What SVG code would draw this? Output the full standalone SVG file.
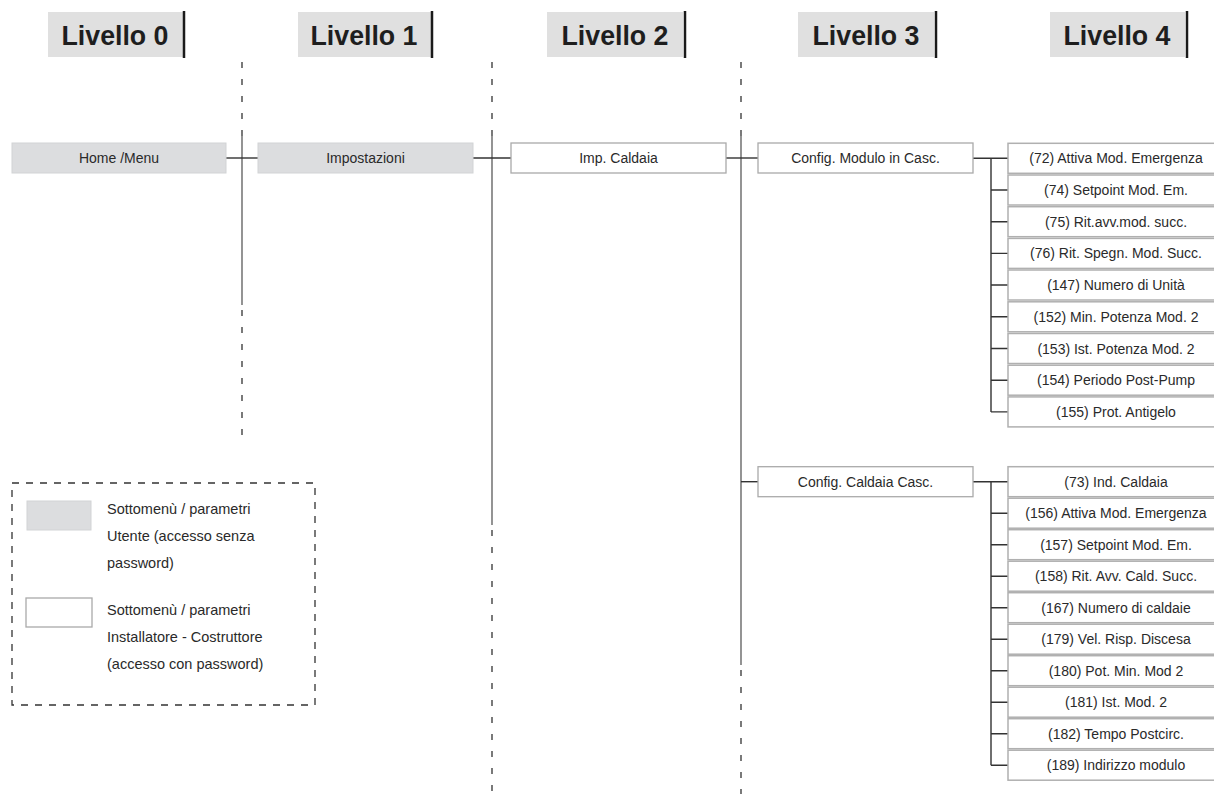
<svg xmlns="http://www.w3.org/2000/svg" width="1214" height="794" viewBox="0 0 1214 794">
<style>
.hdr{fill:#e0e0e0}
.bar{stroke:#1a1a1a;stroke-width:2.5}
.ht{font-family:"Liberation Sans",Arial,sans-serif;font-weight:bold;font-size:28px;fill:#1e1e1e;text-anchor:middle}
.t{font-family:"Liberation Sans",Arial,sans-serif;font-size:14px;fill:#2a2a2a;text-anchor:middle}
.lt{font-family:"Liberation Sans",Arial,sans-serif;font-size:14.5px;fill:#2a2a2a}
.gb{fill:#dcdddf;stroke:#d2d3d5;stroke-width:1}
.wb{fill:#ffffff;stroke:#aaaaaa;stroke-width:1.3}
.pb{fill:#ffffff;stroke:#b0b0b0;stroke-width:1.5}
.c{stroke:#333;stroke-width:1.4;fill:none}
.v{stroke:#666;stroke-width:1.4;fill:none}
.d{stroke:#333;stroke-width:1.3;fill:none;stroke-dasharray:6 11}
</style>
<g id="headers">
<g id="h0"><rect class="hdr" x="48" y="12" width="135" height="45"/><line class="bar" x1="184" y1="11" x2="184" y2="58"/><text class="ht" x="115" y="45" textLength="107" lengthAdjust="spacingAndGlyphs">Livello  0</text></g>
<g id="h1"><rect class="hdr" x="298" y="12" width="133" height="45"/><line class="bar" x1="432" y1="11" x2="432" y2="58"/><text class="ht" x="364" y="45" textLength="107" lengthAdjust="spacingAndGlyphs">Livello  1</text></g>
<g id="h2"><rect class="hdr" x="547" y="12" width="136" height="45"/><line class="bar" x1="685" y1="11" x2="685" y2="58"/><text class="ht" x="615" y="45" textLength="107" lengthAdjust="spacingAndGlyphs">Livello  2</text></g>
<g id="h3"><rect class="hdr" x="798" y="12" width="136" height="45"/><line class="bar" x1="936" y1="11" x2="936" y2="58"/><text class="ht" x="866" y="45" textLength="107" lengthAdjust="spacingAndGlyphs">Livello  3</text></g>
<g id="h4"><rect class="hdr" x="1050" y="12" width="135" height="45"/><line class="bar" x1="1187" y1="11" x2="1187" y2="58"/><text class="ht" x="1117" y="45" textLength="107" lengthAdjust="spacingAndGlyphs">Livello  4</text></g>
</g>
<g id="connectors">
<line class="d" x1="242" y1="62" x2="242" y2="136"/>
<line class="v" x1="242" y1="136" x2="242" y2="305"/>
<line class="d" x1="242" y1="310" x2="242" y2="437"/>
<line class="d" x1="492" y1="62" x2="492" y2="136"/>
<line class="v" x1="492" y1="136" x2="492" y2="525"/>
<line class="d" x1="492" y1="530" x2="492" y2="794"/>
<line class="d" x1="741" y1="62" x2="741" y2="136"/>
<line class="v" x1="741" y1="136" x2="741" y2="665"/>
<line class="d" x1="741" y1="670" x2="741" y2="794"/>
<line class="c" x1="226" y1="158" x2="258" y2="158"/>
<line class="c" x1="473" y1="158" x2="511" y2="158"/>
<line class="c" x1="726" y1="158" x2="758" y2="158"/>
<line class="c" x1="741" y1="481.7" x2="758" y2="481.7"/>
<path class="c" d="M973 158.3H1008M991 158.3V411.9M991 190H1008M991 221.7H1008M991 253.4H1008M991 285H1008M991 316.8H1008M991 348.5H1008M991 380.2H1008M991 411.9H1008"/>
<path class="c" d="M973 481.7H1008M991 481.7V765.2M991 513.2H1008M991 544.7H1008M991 576.2H1008M991 607.7H1008M991 639.2H1008M991 670.7H1008M991 702.2H1008M991 733.7H1008M991 765.2H1008"/>
</g>
<g id="n-home"><rect class="gb" x="12" y="143" width="214" height="30"/><text class="t" x="119" y="163">Home /Menu</text></g>
<g id="n-impostazioni"><rect class="gb" x="258" y="143" width="215" height="30"/><text class="t" x="365.5" y="163">Impostazioni</text></g>
<g id="n-impcaldaia"><rect class="wb" x="511" y="143" width="215" height="30"/><text class="t" x="618.5" y="163">Imp. Caldaia</text></g>
<g id="n-configmodulo"><rect class="wb" x="758" y="143" width="215" height="30"/><text class="t" x="865.5" y="163">Config. Modulo in Casc.</text></g>
<g id="n-configcaldaia"><rect class="wb" x="758" y="466.7" width="215" height="30"/><text class="t" x="865.5" y="486.7">Config. Caldaia Casc.</text></g>
<g id="g1">
<g id="p72"><rect class="pb" x="1008" y="143.3" width="216" height="30"/><text class="t" x="1116" y="163.3">(72) Attiva Mod. Emergenza</text></g>
<g id="p74"><rect class="pb" x="1008" y="175" width="216" height="30"/><text class="t" x="1116" y="195">(74) Setpoint Mod. Em.</text></g>
<g id="p75"><rect class="pb" x="1008" y="206.7" width="216" height="30"/><text class="t" x="1116" y="226.7">(75) Rit.avv.mod. succ.</text></g>
<g id="p76"><rect class="pb" x="1008" y="238.4" width="216" height="30"/><text class="t" x="1116" y="258.4">(76) Rit. Spegn. Mod. Succ.</text></g>
<g id="p147"><rect class="pb" x="1008" y="270" width="216" height="30"/><text class="t" x="1116" y="290">(147) Numero di Unità</text></g>
<g id="p152"><rect class="pb" x="1008" y="301.8" width="216" height="30"/><text class="t" x="1116" y="321.8">(152) Min. Potenza Mod. 2</text></g>
<g id="p153"><rect class="pb" x="1008" y="333.5" width="216" height="30"/><text class="t" x="1116" y="353.5">(153) Ist. Potenza Mod. 2</text></g>
<g id="p154"><rect class="pb" x="1008" y="365.2" width="216" height="30"/><text class="t" x="1116" y="385.2">(154) Periodo Post-Pump</text></g>
<g id="p155"><rect class="pb" x="1008" y="396.9" width="216" height="30"/><text class="t" x="1116" y="416.9">(155) Prot. Antigelo</text></g>
</g>
<g id="g2">
<g id="p73"><rect class="pb" x="1008" y="466.7" width="216" height="30"/><text class="t" x="1116" y="486.7">(73) Ind. Caldaia</text></g>
<g id="p156"><rect class="pb" x="1008" y="498.2" width="216" height="30"/><text class="t" x="1116" y="518.2">(156) Attiva Mod. Emergenza</text></g>
<g id="p157"><rect class="pb" x="1008" y="529.7" width="216" height="30"/><text class="t" x="1116" y="549.7">(157) Setpoint Mod. Em.</text></g>
<g id="p158"><rect class="pb" x="1008" y="561.2" width="216" height="30"/><text class="t" x="1116" y="581.2">(158) Rit. Avv. Cald. Succ.</text></g>
<g id="p167"><rect class="pb" x="1008" y="592.7" width="216" height="30"/><text class="t" x="1116" y="612.7">(167) Numero di caldaie</text></g>
<g id="p179"><rect class="pb" x="1008" y="624.2" width="216" height="30"/><text class="t" x="1116" y="644.2">(179) Vel. Risp. Discesa</text></g>
<g id="p180"><rect class="pb" x="1008" y="655.7" width="216" height="30"/><text class="t" x="1116" y="675.7">(180) Pot. Min. Mod 2</text></g>
<g id="p181"><rect class="pb" x="1008" y="687.2" width="216" height="30"/><text class="t" x="1116" y="707.2">(181) Ist. Mod. 2</text></g>
<g id="p182"><rect class="pb" x="1008" y="718.7" width="216" height="30"/><text class="t" x="1116" y="738.7">(182) Tempo Postcirc.</text></g>
<g id="p189"><rect class="pb" x="1008" y="750.2" width="216" height="30"/><text class="t" x="1116" y="770.2">(189) Indirizzo modulo</text></g>
</g>
<g id="legend">
<rect x="12" y="483" width="303" height="222" fill="none" stroke="#333" stroke-width="1.3" stroke-dasharray="7 7"/>
<rect class="gb" x="27" y="501" width="64" height="29"/>
<text class="lt" x="107" y="514">Sottomenù / parametri</text>
<text class="lt" x="107" y="541">Utente (accesso senza</text>
<text class="lt" x="107" y="568">password)</text>
<rect class="wb" x="26" y="598" width="66" height="29"/>
<text class="lt" x="107" y="615">Sottomenù / parametri</text>
<text class="lt" x="107" y="642">Installatore - Costruttore</text>
<text class="lt" x="107" y="669">(accesso con password)</text>
</g>
</svg>
